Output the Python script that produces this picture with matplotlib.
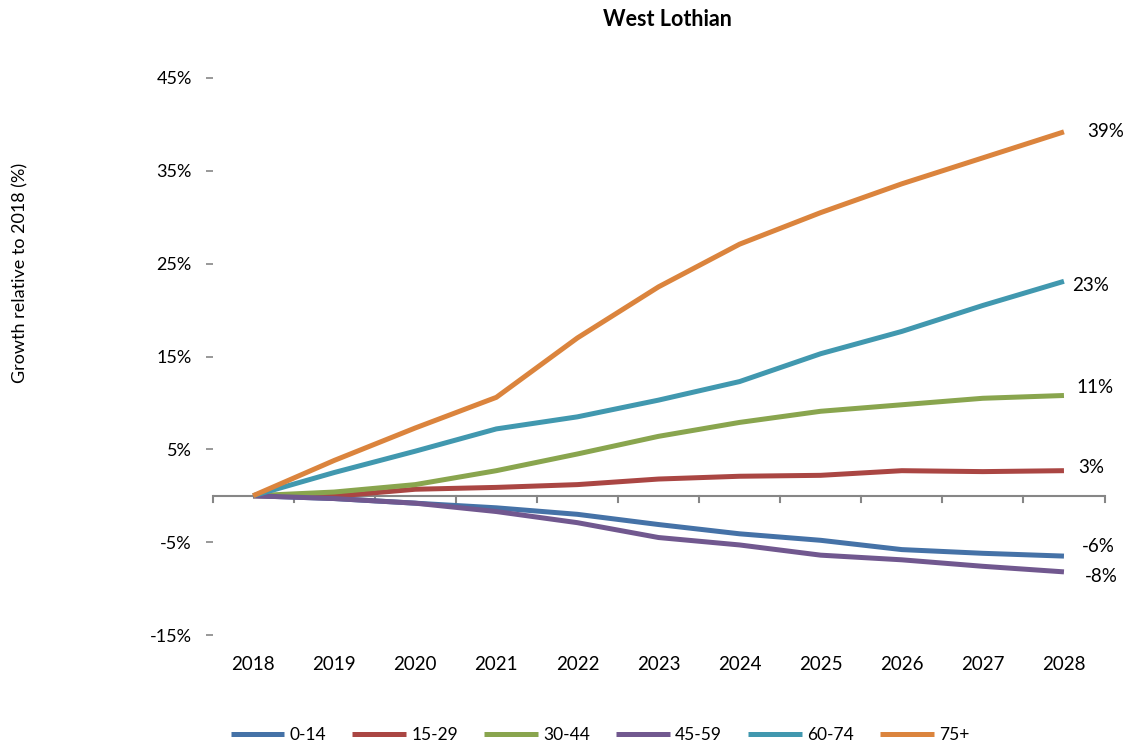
import matplotlib
matplotlib.use("Agg")
import matplotlib.pyplot as plt

plt.rcParams['font.family'] = ['Lato', 'DejaVu Sans']

years = ['2018', '2019', '2020', '2021', '2022', '2023', '2024', '2025', '2026', '2027', '2028']
series_names = ['0-14', '15-29', '30-44', '45-59', '60-74', '75+']
s_0_14 = [0, -0.3, -0.8, -1.3, -2.0, -3.1, -4.1, -4.8, -5.8, -6.2, -6.5]
s_15_29 = [0, -0.05, 0.7, 0.9, 1.2, 1.8, 2.1, 2.2, 2.7, 2.6, 2.7]
s_30_44 = [0, 0.4, 1.2, 2.7, 4.5, 6.4, 7.9, 9.1, 9.8, 10.5, 10.8]
s_45_59 = [0, -0.3, -0.8, -1.7, -2.9, -4.5, -5.3, -6.4, -6.9, -7.6, -8.2]
s_60_74 = [0, 2.5, 4.8, 7.2, 8.5, 10.3, 12.3, 15.3, 17.7, 20.5, 23.1]
s_75p = [0, 3.8, 7.3, 10.6, 17.0, 22.5, 27.1, 30.5, 33.6, 36.4, 39.2]
series = [s_0_14, s_15_29, s_30_44, s_45_59, s_60_74, s_75p]
colors = ['#4572A7', '#AA4643', '#89A54E', '#71588F', '#4198AF', '#DB843D']
yticks = [-15, -5, 5, 15, 25, 35, 45]
# label offsets (points) for end labels
label_offsets = [(13, 7), (10, 2), (9, 6), (15, -3), (6, -3), (17, 0)]

fig = plt.figure(figsize=(11.32, 7.44), dpi=100)
ax = fig.add_axes([212.5/1132, 1-635/744, (1104.5-212.5)/1132, (635-78)/744])

x = list(range(len(years)))
for vals, c, name, off in zip(series, colors, series_names, label_offsets):
    ax.plot(x, vals, color=c, lw=3.6, label=name, solid_capstyle='butt', zorder=3)
    ax.annotate(f"{vals[-1]:.0f}%", (x[-1], vals[-1]), xytext=off, textcoords='offset points',
                ha='left', va='center', fontsize=13.5, color='black')

ax.set_xlim(-0.5, len(years) - 0.5)
ax.set_ylim(-15, 45)
for s in ax.spines.values():
    s.set_visible(False)

ax.axhline(0, color='#868686', lw=1.5, zorder=2)
for b in range(len(years) + 1):
    ax.plot([b - 0.5, b - 0.5], [0, -0.65], color='#868686', lw=1.5, zorder=2, clip_on=False)

ax.set_xticks(x)
ax.set_xticklabels(years, fontsize=13.5)
ax.tick_params(axis='x', length=0, pad=15)
ax.set_yticks(yticks)
ax.set_yticklabels([f"{t}%" for t in yticks], fontsize=13)
ax.tick_params(axis='y', length=5, width=1.2, color='#868686', pad=10, direction='out')

fig.text(667/1132, 1-19/744, 'West Lothian', fontsize=15.5, fontweight='bold', ha='center', va='center')
fig.text(20/1132, 1-273/744, 'Growth relative to 2018 (%)', rotation=90, ha='center', va='center', fontsize=13)

fig.legend(loc='center', bbox_to_anchor=(600/1132, 1-735/744), ncol=6, frameon=False,
           fontsize=12.5, handlelength=3.1, columnspacing=1.5, handletextpad=0.3)

fig.savefig('out.png', dpi=100)
